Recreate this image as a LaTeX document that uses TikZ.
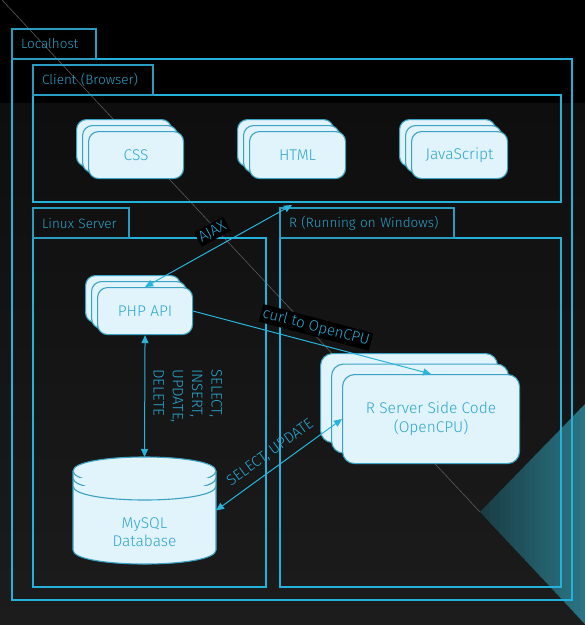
\documentclass[tikz,border=0pt]{standalone}
\usepackage{fontspec}
\setmainfont{Fira Sans Light}
\usetikzlibrary{arrows.meta,shadows}
\definecolor{boxline}{HTML}{22B2DC}
\definecolor{tabline}{HTML}{2A9CC0}
\definecolor{tabtext}{HTML}{2BA2C8}
\definecolor{cardfill}{HTML}{E1F3FB}
\definecolor{cardline}{HTML}{3AA3C4}
\definecolor{cardtext}{HTML}{2EA6CE}
\definecolor{arrowcol}{HTML}{28B4DC}
\definecolor{labeltext}{HTML}{2AA8D4}
\definecolor{bgtop}{HTML}{0E0E0E}
\definecolor{bgbot}{HTML}{1C1C1C}
\definecolor{triL}{HTML}{1A3C45}
\definecolor{triR}{HTML}{2A7483}
\definecolor{diagcol}{HTML}{5A5A5A}
\newcommand\tristrips{%
  \foreach \i in {0,...,20} {
    \pgfmathtruncatemacro\pct{\i*5}
    \fill[triR!\pct!triL] (480+\i*5,400) rectangle (485.6+\i*5,625);
  }}
\begin{document}
\begin{tikzpicture}[x=1pt,y=-1pt,
  box/.style={draw=boxline, line width=1.2pt, inner sep=0pt, outer sep=0pt, anchor=north west},
  tab/.style={draw=tabline, line width=1.2pt, anchor=north west, inner xsep=9pt, inner ysep=0pt,
    outer sep=0pt, minimum height=30pt, text=tabtext, font=\fontsize{13.5}{16}\selectfont, align=left},
  cardbase/.style={fill=cardfill, draw=cardline, line width=1.1pt, rounded corners=10pt},
  card/.style={cardbase, anchor=north west, inner sep=0pt, text=cardtext,
    font=\fontsize{15.5}{19}\selectfont, align=center,
    copy shadow={shadow xshift=-12pt, shadow yshift=12pt, fill=cardfill, draw=cardline, line width=1.1pt},
    copy shadow={shadow xshift=-6pt, shadow yshift=6pt, fill=cardfill, draw=cardline, line width=1.1pt}},
  bigcard/.style={cardbase, rounded corners=12pt, anchor=north west, inner sep=0pt, text=cardtext,
    font=\fontsize{15.5}{19}\selectfont, align=center,
    copy shadow={shadow xshift=-22pt, shadow yshift=21pt, fill=cardfill, draw=cardline, line width=1.1pt},
    copy shadow={shadow xshift=-11pt, shadow yshift=10.5pt, fill=cardfill, draw=cardline, line width=1.1pt}},
  cyl/.style={fill=cardfill, draw=cardline, line width=1.1pt},
  celltext/.style={text=cardtext, font=\fontsize{15.5}{18}\selectfont, inner sep=0pt},
  conn/.style={draw=arrowcol, line width=1pt},
  tip/.tip={Triangle[length=8pt,width=7pt]},
  lbl/.style={text=labeltext, font=\fontsize{15}{19.3}\selectfont, inner sep=2pt},
  lblbg/.style={lbl, fill=black}
]
\useasboundingbox (0,0) rectangle (585,625);
% background
\fill[black] (0,0) rectangle (585,625);
\shade[top color=bgtop, bottom color=bgbot] (0,103) rectangle (585,625);
% decorative triangle, split so that it leaves the frame lines free
\foreach \ra/\rb/\rc/\rd in {480/400/560.3/586.3, 480/587.7/571.3/599.3, 561.7/400/571.3/599.3,
                              480/600.7/585/625, 572.7/400/585/625} {
  \begin{scope}
    \clip (480,512) -- (585,404) -- (585,624) -- cycle;
    \clip (\ra,\rb) rectangle (\rc,\rd);
    \tristrips
  \end{scope}
}
\draw[diagcol, line width=0.6pt] (2,0) -- (480,512);

% containers
\node[box, minimum width=560pt, minimum height=541pt] (localbox) at (12,59) {};
\node[tab, text width=66pt] (localtab) at (12,29) {Localhost};
\node[box, minimum width=528pt, minimum height=107pt] (clientbox) at (33,95) {};
\node[tab, text width=102pt] (clienttab) at (33,65) {Client (Browser)};
\node[box, minimum width=233pt, minimum height=349pt] (linuxbox) at (33,238) {};
\node[tab, text width=78pt] (linuxtab) at (33,208) {Linux Server};
\node[box, minimum width=281pt, minimum height=349pt] (rbox) at (280,238) {};
\node[tab, text width=156pt] (rtab) at (280,208) {R (Running on Windows)};

% cards
\node[card, minimum width=95pt, minimum height=47pt] (css) at (88,131) {CSS};
\node[card, minimum width=96pt, minimum height=47pt] (html) at (249,131) {HTML};
\node[card, minimum width=96pt, minimum height=47pt] (js) at (411,131) {JavaScript};
\node[card, minimum width=95pt, minimum height=47pt] (php) at (97,287) {PHP API};
\node[bigcard, minimum width=177pt, minimum height=89pt] (rserv) at (342,374) {R Server Side Code\\(OpenCPU)};

% database cylinder
\node[inner sep=0pt, outer sep=0pt, minimum width=143pt, minimum height=107pt, anchor=north] (db) at (144.5,457) {};
\filldraw[cyl] (73,471) -- (73,550) .. controls (73,568.67) and (216,568.67) .. (216,550)
  -- (216,471) .. controls (216,452.33) and (73,452.33) .. (73,471) -- cycle;
\draw[cyl] (73,471) .. controls (73,489.67) and (216,489.67) .. (216,471);
\draw[cyl] (73,478) .. controls (73,496.67) and (216,496.67) .. (216,478);
\draw[cyl] (73,486) .. controls (73,504.67) and (216,504.67) .. (216,486);
\node[celltext, align=center] (dbtext) at (144.5,532) {MySQL\\Database};

% connectors
\coordinate (ajaxend) at (292,205);
\draw[conn, tip-tip] (php.north) -- node[lblbg, sloped, above=7pt, pos=0.51] (ajaxlbl) {AJAX} (ajaxend);
\draw[conn, -tip] (php.east) -- node[lblbg, sloped, above=6pt, pos=0.5] (curllbl) {curl to OpenCPU} (rserv.north);
\draw[conn, tip-tip] (php.south) -- node[lbl, midway, xshift=43pt, rotate=-90, align=left] (sqllbl) {SELECT,\\INSERT,\\UPDATE,\\DELETE} (db.north);
\draw[conn, tip-tip] (db.east) -- node[lbl, sloped, above=6pt, pos=0.5] (sulbl) {SELECT, UPDATE} (rserv.west);
\end{tikzpicture}
\end{document}
